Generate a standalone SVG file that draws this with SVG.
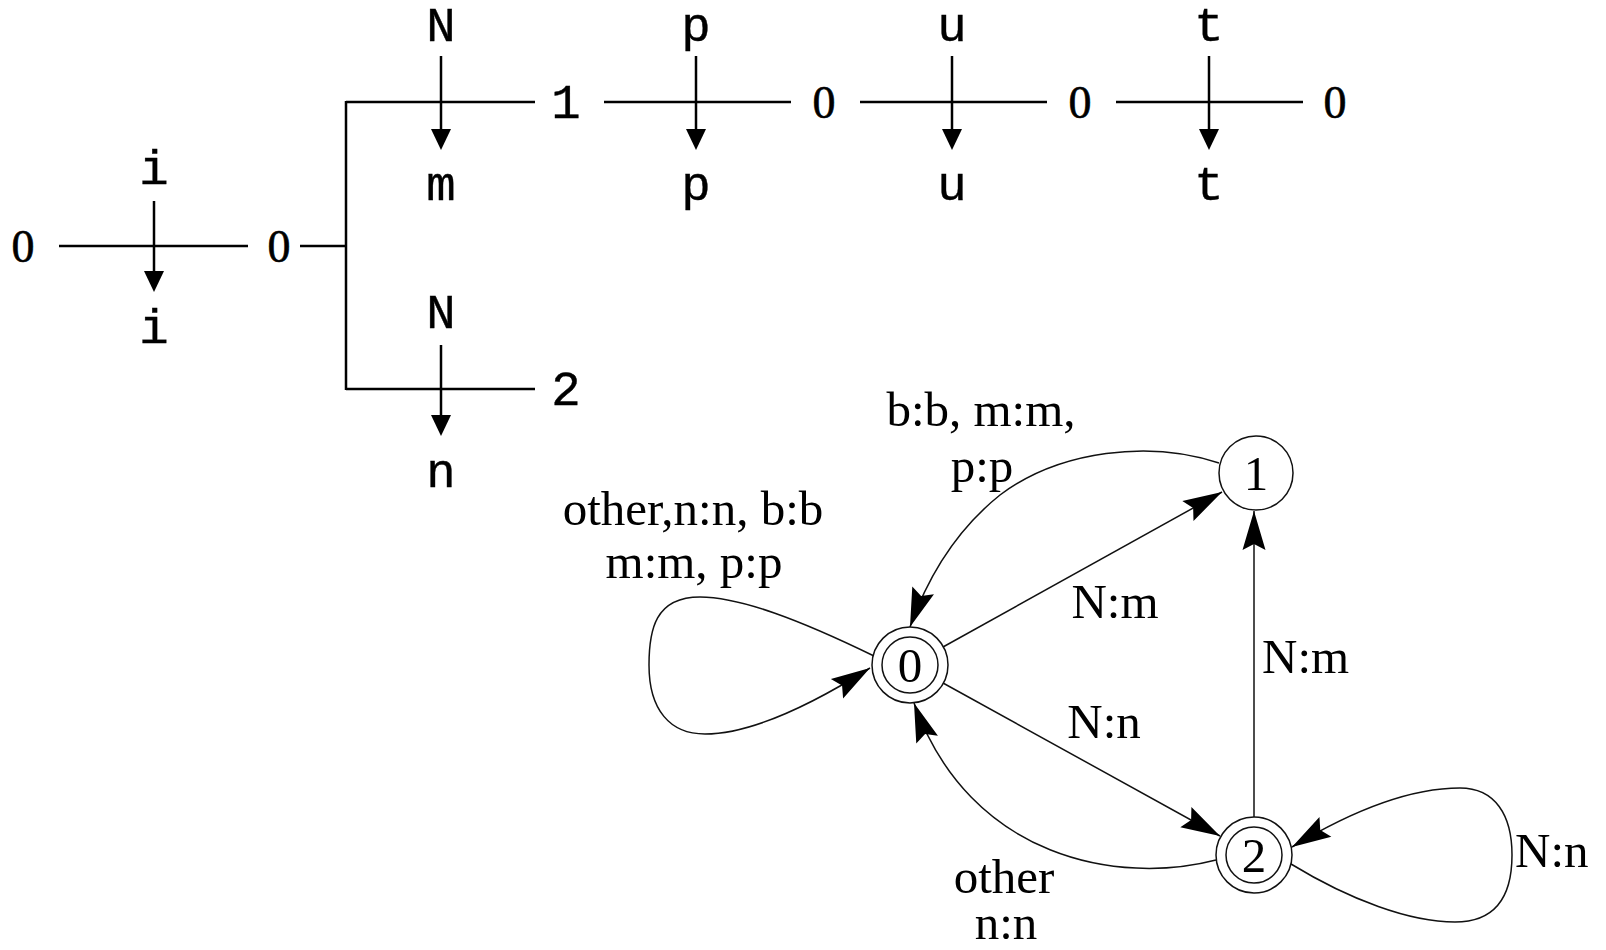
<svg xmlns="http://www.w3.org/2000/svg" width="1606" height="950" viewBox="0 0 1606 950">
  <style>
    .mono { font-family: "Liberation Mono", "Courier New", monospace; font-size: 49px; text-anchor: middle; fill: #000; stroke: #000; stroke-width: 0.4; }
    .zero { font-family: "Liberation Serif", "Times New Roman", serif; font-size: 46px; text-anchor: middle; fill: #000; stroke: #000; stroke-width: 0.6; }
    .serif { font-family: "Liberation Serif", "Times New Roman", serif; font-size: 49px; fill: #000; }
    .mid { text-anchor: middle; }
    .bar { stroke: #000; stroke-width: 2.5; fill: none; }
    .tape { stroke: #000; stroke-width: 2.5; fill: none; marker-end: url(#tri); }
    .edge { stroke: #111; stroke-width: 1.5; fill: none; marker-end: url(#stealth); }
    .ring { stroke: #111; stroke-width: 1.5; fill: #fff; }
  </style>
  <defs>
    <marker id="tri" markerUnits="userSpaceOnUse" viewBox="-22 -11 24 22" markerWidth="24" markerHeight="22" refX="-10" refY="0" orient="auto">
      <path d="M0,0 L-21,-10 L-21,10 Z" fill="#000"/>
    </marker>
    <marker id="stealth" markerUnits="userSpaceOnUse" viewBox="-42 -13 44 26" markerWidth="44" markerHeight="26" refX="0" refY="0" orient="auto">
      <path d="M0,0 L-39,-11.5 L-33,0 L-39,11.5 Z" fill="#000"/>
    </marker>
  </defs>

  <rect width="1606" height="950" fill="#fff"/>

  <!-- upper part: lexical to surface tape -->
  <g id="tape-connectors">
    <line class="bar" x1="59" y1="246" x2="248" y2="246"/>
    <line class="bar" x1="300" y1="246" x2="346" y2="246"/>
    <line class="bar" x1="346" y1="101" x2="346" y2="390"/>
    <line class="bar" x1="346" y1="102" x2="535" y2="102"/>
    <line class="bar" x1="346" y1="389" x2="535" y2="389"/>
    <line class="bar" x1="604" y1="102" x2="791" y2="102"/>
    <line class="bar" x1="860" y1="102" x2="1047" y2="102"/>
    <line class="bar" x1="1116" y1="102" x2="1303" y2="102"/>
    <line class="tape" x1="154" y1="201" x2="154" y2="282"/>
    <line class="tape" x1="441" y1="56" x2="441" y2="140"/>
    <line class="tape" x1="441" y1="345" x2="441" y2="426"/>
    <line class="tape" x1="696" y1="56" x2="696" y2="140"/>
    <line class="tape" x1="952" y1="56" x2="952" y2="140"/>
    <line class="tape" x1="1209" y1="56" x2="1209" y2="140"/>
  </g>

  <g id="tape-state-a"><text class="zero" x="23" y="262">0</text></g>
  <g id="tape-pair-i">
    <text class="mono" x="154" y="184">i</text>
    <text class="mono" x="154" y="343">i</text>
  </g>
  <g id="tape-state-b"><text class="zero" x="279" y="262">0</text></g>
  <g id="tape-pair-Nm">
    <text class="mono" x="441" y="41">N</text>
    <text class="mono" x="441" y="200">m</text>
  </g>
  <g id="tape-state-c"><text class="mono" x="566" y="118">1</text></g>
  <g id="tape-pair-Nn">
    <text class="mono" x="441" y="328">N</text>
    <text class="mono" x="441" y="487">n</text>
  </g>
  <g id="tape-state-d"><text class="mono" x="566" y="405">2</text></g>
  <g id="tape-pair-p">
    <text class="mono" x="696" y="41">p</text>
    <text class="mono" x="696" y="200">p</text>
  </g>
  <g id="tape-state-e"><text class="zero" x="824" y="118">0</text></g>
  <g id="tape-pair-u">
    <text class="mono" x="952" y="41">u</text>
    <text class="mono" x="952" y="200">u</text>
  </g>
  <g id="tape-state-f"><text class="zero" x="1080" y="118">0</text></g>
  <g id="tape-pair-t">
    <text class="mono" x="1209" y="41">t</text>
    <text class="mono" x="1209" y="200">t</text>
  </g>
  <g id="tape-state-g"><text class="zero" x="1335" y="118">0</text></g>

  <!-- lower part: finite-state transducer -->
  <g id="fst-edges">
    <path class="edge" d="M874,656 C800,620 740,597 700,597 C655,597 649,630 649,665 C649,710 670,734 705,734 C745,734 800,712 870,668"/>
    <path class="edge" d="M1219,463 C1150,440 1060,450 1000,495 C950,535 925,585 910,627"/>
    <path class="edge" d="M943,647 L1222,492"/>
    <path class="edge" d="M943,683 L1220,836"/>
    <path class="edge" d="M1254,817 L1254,511"/>
    <path class="edge" d="M1216,860 C1120,885 970,860 914,703"/>
    <path class="edge" d="M1291,864 C1350,900 1410,922 1455,922 C1500,922 1512,890 1512,855 C1512,815 1495,788 1460,788 C1410,788 1350,812 1292,847"/>
    <text class="serif mid" x="693" y="525">other,n:n, b:b</text>
    <text class="serif mid" x="694" y="578">m:m, p:p</text>
    <text class="serif mid" x="981" y="426">b:b, m:m,</text>
    <text class="serif mid" x="982" y="482">p:p</text>
    <text class="serif mid" x="1115" y="618">N:m</text>
    <text class="serif mid" x="1104" y="738">N:n</text>
    <text class="serif" x="1262" y="673">N:m</text>
    <text class="serif" x="1515" y="867">N:n</text>
    <text class="serif mid" x="1004" y="893">other</text>
    <text class="serif mid" x="1006" y="939">n:n</text>
  </g>

  <g id="state-0">
    <circle class="ring" cx="910" cy="665" r="38"/>
    <circle class="ring" cx="910" cy="665" r="28"/>
    <text class="serif mid" x="910" y="682">0</text>
  </g>
  <g id="state-1">
    <circle class="ring" cx="1256" cy="473" r="37"/>
    <text class="serif mid" x="1256" y="490">1</text>
  </g>
  <g id="state-2">
    <circle class="ring" cx="1254" cy="855" r="38"/>
    <circle class="ring" cx="1254" cy="855" r="28"/>
    <text class="serif mid" x="1254" y="872">2</text>
  </g>
</svg>
